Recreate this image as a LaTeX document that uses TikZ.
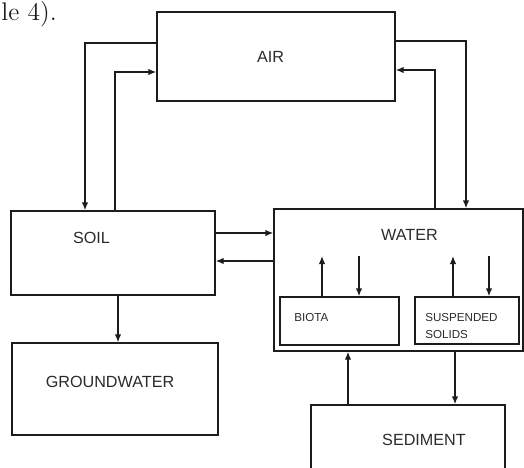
\documentclass[tikz,border=0pt]{standalone}
\usepackage{fontspec}
\setsansfont{Liberation Sans}
\usepackage{xcolor}
\usepackage{tikz}
\usetikzlibrary{positioning,arrows.meta,calc,fit}
\definecolor{ink}   {HTML}{1C1C1C}
\definecolor{ink2}  {HTML}{2A2A2A}
\tikzset{
  box/.style   = {draw=ink, line width=0.8pt, inner sep=0pt},
  big/.style   = {font=\sffamily\fontsize{9.2}{11}\selectfont, text=ink2, inner sep=0pt},
  small/.style = {font=\sffamily\fontsize{6.6}{10.2}\selectfont, text=ink2,
                  align=left, inner sep=0pt},
  flow/.style  = {-{Latex[length=1.6mm,width=1.3mm]}, draw=ink, line width=0.8pt},
}

\begin{document}
\begin{tikzpicture}[x=0.02cm, y=-0.02cm]
  \clip (0,0) rectangle (524,467);

  % running text above the figure
  \node[font=\fontsize{14.5}{17}\selectfont, anchor=base west, inner sep=0pt, text=ink]
    (cap) at (1,20) {le 4).};

  % compartments
  \node[box, fit={(157,12) (395,101)}]  (air)    {};
  \node[box, fit={(11,211) (215,295)}]  (soil)   {};
  \node[box, fit={(12,343) (218,435)}]  (ground) {};
  \node[box, fit={(274,209) (523,351)}] (water)  {};
  \node[box, fit={(280,297) (399,345)}] (biota)  {};
  \node[box, fit={(415,297) (519,344)}] (solids) {};
  \node[box, fit={(311,405) (505,480)}] (sed)    {};

  % labels
  \node[big] (airtxt)   at (270.5,57)  {AIR};
  \node[big] (soiltxt)  at (91.5,238)  {SOIL};
  \node[big] (groundtxt) at (110,382)  {GROUNDWATER};
  \node[big] (watertxt) at (409.5,235) {WATER};
  \node[small, anchor=west] (biotatxt)  at (294,318) {BIOTA};
  \node[small, anchor=west] (solidstxt) at (425,326) {SUSPENDED\\SOLIDS};
  \node[big] (sedtxt)   at (424,440)   {SEDIMENT};

  % air <-> soil, air <-> water
  \draw[flow] (air.west |- 0,43) -| (soil.north -| 85,0);
  \draw[flow] (soil.north -| 115,0) |- (air.west |- 0,72);
  \draw[flow] (air.east |- 0,41) -| (water.north -| 466,0);
  \draw[flow] (water.north -| 435,0) |- (air.east |- 0,70);

  % soil <-> water, soil -> groundwater
  \draw[flow] (soil.east |- 0,233) -- (water.west |- 0,233);
  \draw[flow] (water.west |- 0,261) -- (soil.east |- 0,261);
  \draw[flow] (soil.south -| 118,0) -- (ground.north -| 118,0);

  % exchange inside water
  \coordinate (bup)   at (322,256);
  \coordinate (bdown) at (359,256);
  \coordinate (sup)   at (453,256);
  \coordinate (sdown) at (489,256);
  \draw[flow] (biota.north -| bup) -- (bup);
  \draw[flow] (bdown) -- (biota.north -| bdown);
  \draw[flow] (solids.north -| sup) -- (sup);
  \draw[flow] (sdown) -- (solids.north -| sdown);

  % water <-> sediment
  \draw[flow] (water.south -| 455,0) -- (sed.north -| 455,0);
  \draw[flow] (sed.north -| 348,0) -- (water.south -| 348,0);
\end{tikzpicture}
\end{document}
